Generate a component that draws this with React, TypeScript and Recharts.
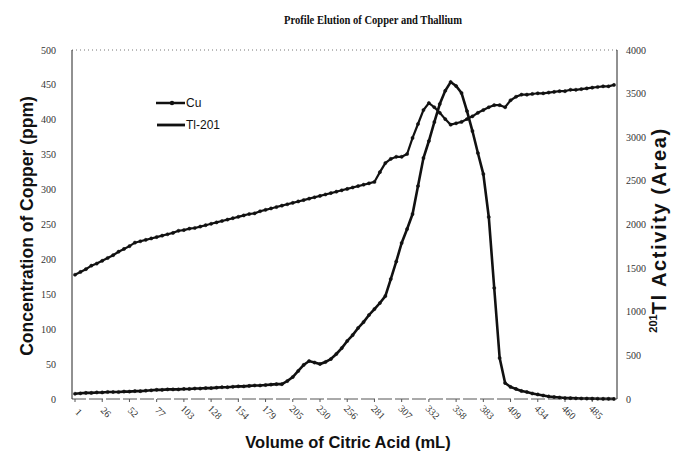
import React from 'react';
import { LineChart, Line, XAxis, YAxis, ReferenceLine, Legend } from 'recharts';

// elution volume for each fraction (mL)
const volumes = [
  1, 6, 11, 16, 21, 26, 32, 37, 42, 47, 52, 57, 62, 67, 72, 77, 83, 88, 93, 98,
  103, 108, 113, 118, 123, 128, 134, 139, 144, 149, 154, 159, 164, 169, 174, 179, 185, 190, 195, 200,
  205, 210, 215, 220, 225, 230, 236, 241, 246, 251, 256, 261, 266, 271, 276, 281, 287, 292, 297, 302,
  307, 312, 317, 322, 327, 332, 338, 343, 348, 353, 358, 363, 368, 373, 378, 383, 389, 394, 399, 404,
  409, 414, 419, 424, 429, 434, 440, 445, 450, 455, 460, 465, 470, 475, 480, 485, 491, 496, 501, 506,
];

// Cu concentration (ppm), left axis
const copperPpm = [
  178, 182, 186, 191, 194, 198, 202, 206, 211, 215, 219, 224, 226, 228, 230, 232, 234, 236, 238, 241,
  242, 244, 245, 247, 249, 251, 253, 255, 257, 259, 261, 263, 265, 266, 269, 271, 273, 275, 277, 279,
  281, 283, 285, 287, 289, 291, 293, 295, 297, 299, 301, 303, 305, 307, 309, 311, 325, 338, 344, 347,
  347, 351, 374, 394, 414, 424, 418, 410, 401, 393, 395, 397, 401, 405, 410, 414, 418, 421, 421, 418,
  428, 433, 436, 436, 437, 438, 438, 439, 440, 441, 441, 443, 443, 444, 445, 446, 447, 448, 448, 450,
];

// 201Tl activity (peak area), right axis
const thalliumActivity = [
  60, 65, 70, 70, 75, 75, 80, 80, 80, 85, 85, 90, 90, 95, 100, 105, 105, 110, 110, 110,
  115, 115, 120, 120, 125, 125, 130, 135, 135, 140, 145, 145, 150, 155, 155, 160, 165, 170, 170, 206,
  252, 321, 390, 435, 418, 401, 424, 458, 516, 584, 665, 733, 814, 882, 963, 1031, 1100, 1180, 1375, 1575,
  1788, 1948, 2120, 2441, 2762, 2957, 3174, 3381, 3532, 3633, 3587, 3507, 3300, 3071, 2819, 2578, 2086, 1272, 470, 183,
  138, 115, 92, 80, 63, 52, 40, 29, 23, 17, 11, 10, 8, 6, 5, 4, 3, 2, 2, 1,
];

const copperTicks = [0, 50, 100, 150, 200, 250, 300, 350, 400, 450, 500];
const activityTicks = [0, 500, 1000, 1500, 2000, 2500, 3000, 3500, 4000];

const data = volumes.map((v, i) => ({
  volume: v,
  Cu: copperPpm[i],
  'Tl-201': thalliumActivity[i],
}));

const serif = '"Liberation Serif", "Times New Roman", serif';
const sans = '"Liberation Sans", Arial, sans-serif';

const VolumeTick = (props: any) => {
  const { x, y, payload } = props;
  return (
    <text
      x={x + 3}
      y={y + 9}
      transform={`rotate(45 ${x + 3} ${y + 9})`}
      textAnchor="middle"
      dominantBaseline="middle"
      fontFamily={serif}
      fontSize={10}
      fill="#333"
    >
      {payload.value}
    </text>
  );
};

const renderLegend = () => (
  <svg width={80} height={36}>
    <line x1={2} y1={6} x2={31} y2={6} stroke="#111" strokeWidth={2.5} />
    <circle cx={18} cy={6} r={2.2} fill="#111" />
    <text x={32} y={10} fontFamily={sans} fontSize={12} fill="#111">Cu</text>
    <line x1={3} y1={28} x2={31} y2={28} stroke="#111" strokeWidth={2.8} />
    <text x={32} y={32} fontFamily={sans} fontSize={12} fill="#111">Tl-201</text>
  </svg>
);

export default function App() {
  return (
    <div style={{ position: 'absolute', left: 0, top: 0, width: 687, height: 463, background: '#fff' }}>
      <LineChart width={687} height={463} data={data} margin={{ top: 50, right: 0, bottom: 0, left: 0 }}>
        <XAxis
          dataKey="volume"
          interval={4}
          height={64}
          padding={{ left: 3, right: 3 }}
          tick={<VolumeTick />}
          tickSize={3}
          tickLine={{ stroke: '#555' }}
          axisLine={{ stroke: '#555', strokeDasharray: '14 3' }}
        />
        <YAxis
          yAxisId="cu"
          domain={[0, 500]}
          ticks={copperTicks}
          width={72}
          tickSize={6}
          tickMargin={10}
          tickLine={false}
          axisLine={{ stroke: '#222' }}
          tick={{ fontFamily: serif, fontSize: 10, fill: '#333' }}
        />
        <YAxis
          yAxisId="tl"
          orientation="right"
          domain={[0, 4000]}
          ticks={activityTicks}
          width={70}
          tickSize={4}
          tickMargin={5}
          tickLine={false}
          axisLine={{ stroke: '#222' }}
          tick={{ fontFamily: serif, fontSize: 10, fill: '#333', textAnchor: 'start' }}
        />
        <ReferenceLine yAxisId="cu" y={500} stroke="#777" strokeDasharray="1 3" />
        <Legend
          layout="vertical"
          align="center"
          verticalAlign="middle"
          content={renderLegend}
          wrapperStyle={{ left: 154, top: 97, width: 80, height: 36 }}
        />
        <Line
          yAxisId="cu"
          dataKey="Cu"
          type="linear"
          stroke="#111"
          strokeWidth={2.2}
          dot={{ r: 1.6, fill: '#111', stroke: '#111', strokeWidth: 0.5 }}
          isAnimationActive={false}
        />
        <Line
          yAxisId="tl"
          dataKey="Tl-201"
          type="linear"
          stroke="#111"
          strokeWidth={2.6}
          dot={{ r: 1.6, fill: '#111', stroke: '#111', strokeWidth: 0.5 }}
          isAnimationActive={false}
        />
      </LineChart>
      <svg
        width={687}
        height={463}
        style={{ position: 'absolute', left: 0, top: 0, pointerEvents: 'none' }}
      >
        <text
          x={373}
          y={24}
          textAnchor="middle"
          fontFamily={serif}
          fontWeight="bold"
          fontSize={12}
          textLength={178}
          lengthAdjust="spacingAndGlyphs"
          fill="#111"
        >
          Profile Elution of Copper and Thallium
        </text>
        <text x={348} y={448} textAnchor="middle" fontFamily={sans} fontWeight="bold" fontSize={16.5} fill="#111">
          Volume of Citric Acid (mL)
        </text>
        <text
          transform="translate(33 226) rotate(-90)"
          textAnchor="middle"
          fontFamily={sans}
          fontWeight="bold"
          fontSize={17.5}
          fill="#111"
        >
          Concentration of Copper  (ppm)
        </text>
        <text
          transform="translate(666 230) rotate(-90)"
          textAnchor="middle"
          fontFamily={sans}
          fontWeight="bold"
          fontSize={20}
          letterSpacing={1.6}
          fill="#111"
        >
          <tspan fontSize={11} letterSpacing={0} dy={-9}>201</tspan>
          <tspan dy={9}>Tl Activity (Area)</tspan>
        </text>
      </svg>
    </div>
  );
}
